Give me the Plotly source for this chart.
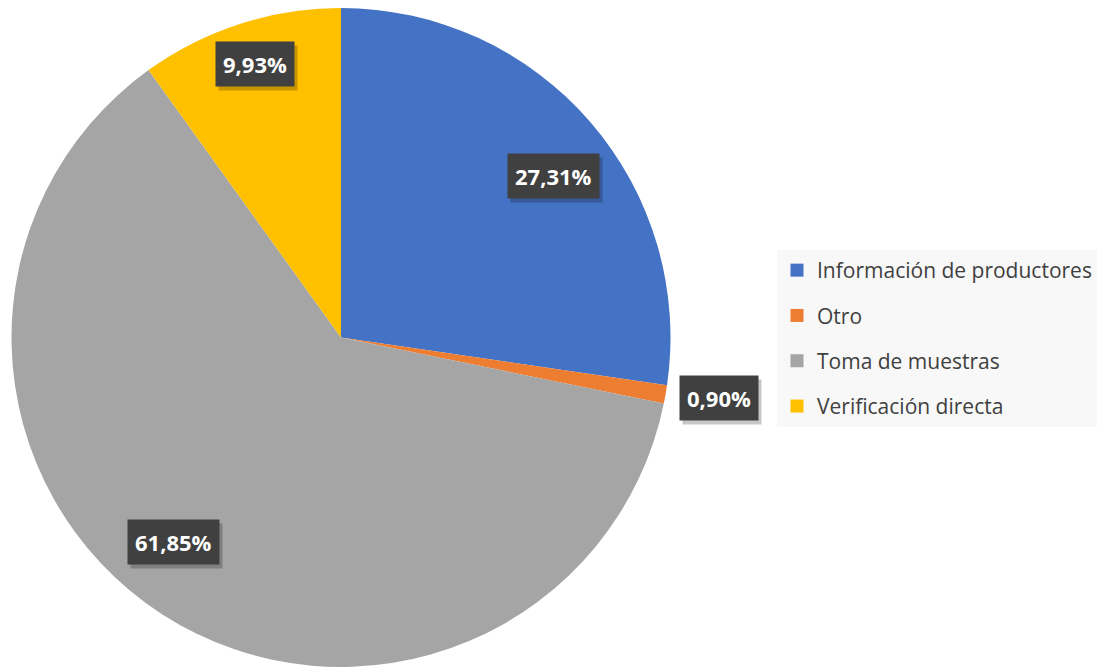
import math
import plotly.graph_objects as go

categories = ["Información de productores", "Otro", "Toma de muestras", "Verificación directa"]
values = [27.31, 0.90, 61.85, 9.93]
labels_text = ["27,31%", "0,90%", "61,85%", "9,93%"]
colors = ["#4472C4", "#ED7D31", "#A5A5A5", "#FFC000"]
label_radius = [0.81, 1.16, 0.80, 0.87]
label_angle_shift = [3.5, -1.0, 6.5, 0.5]

W, H = 1097, 667
cx, cy, R = 341, 338, 330

fig = go.Figure()
fig.add_trace(go.Pie(
    labels=categories, values=values, sort=False, direction="clockwise",
    rotation=0, marker=dict(colors=colors, line=dict(width=0)),
    textinfo="none", hoverinfo="label+percent", showlegend=False,
    domain=dict(x=[(cx - R) / W, (cx + R) / W], y=[0, (H - 8) / H]),
))

# legend via dummy traces
for c, col in zip(categories, colors):
    fig.add_trace(go.Scatter(x=[None], y=[None], mode="markers", name=c,
                             legendgroup=c,
                             marker=dict(symbol="square", size=13, color=col)))

total = sum(values)
cum = 0
for v, t, rf, da in zip(values, labels_text, label_radius, label_angle_shift):
    mid = (cum + v / 2) / total * 2 * math.pi + math.radians(da)
    cum += v
    px = cx + rf * R * math.sin(mid)
    py = cy - rf * R * math.cos(mid)
    xp, yp = px / W, 1 - py / H
    # shadow
    fig.add_annotation(x=xp, y=yp, xref="paper", yref="paper", text="<b>" + t + "</b>", showarrow=False,
                       xanchor="center", yanchor="middle",
                       xshift=3, yshift=-4,
                       font=dict(family="Open Sans", size=22, color="rgba(0,0,0,0)"),
                       bgcolor="rgba(0,0,0,0.22)", borderpad=7)
    fig.add_annotation(x=xp, y=yp, xref="paper", yref="paper", text="<b>" + t + "</b>",
                       showarrow=False, xanchor="center", yanchor="middle",
                       font=dict(family="Open Sans", size=22, color="white"),
                       bgcolor="#404040", borderpad=7)

fig.update_layout(
    width=W, height=H, margin=dict(l=0, r=0, t=0, b=0),
    paper_bgcolor="white", plot_bgcolor="white",
    xaxis=dict(visible=False), yaxis=dict(visible=False),
    legend=dict(x=1, y=1 - 250 / H, xanchor="right", yanchor="top",
                bgcolor="#F8F8F8", tracegroupgap=15,
                font=dict(family="Open Sans", size=21, color="#404040"),
                itemwidth=30),
    showlegend=True,
)
fig.write_html("out.html", config={"displayModeBar": False},
               post_script="document.body.style.margin='0';")
